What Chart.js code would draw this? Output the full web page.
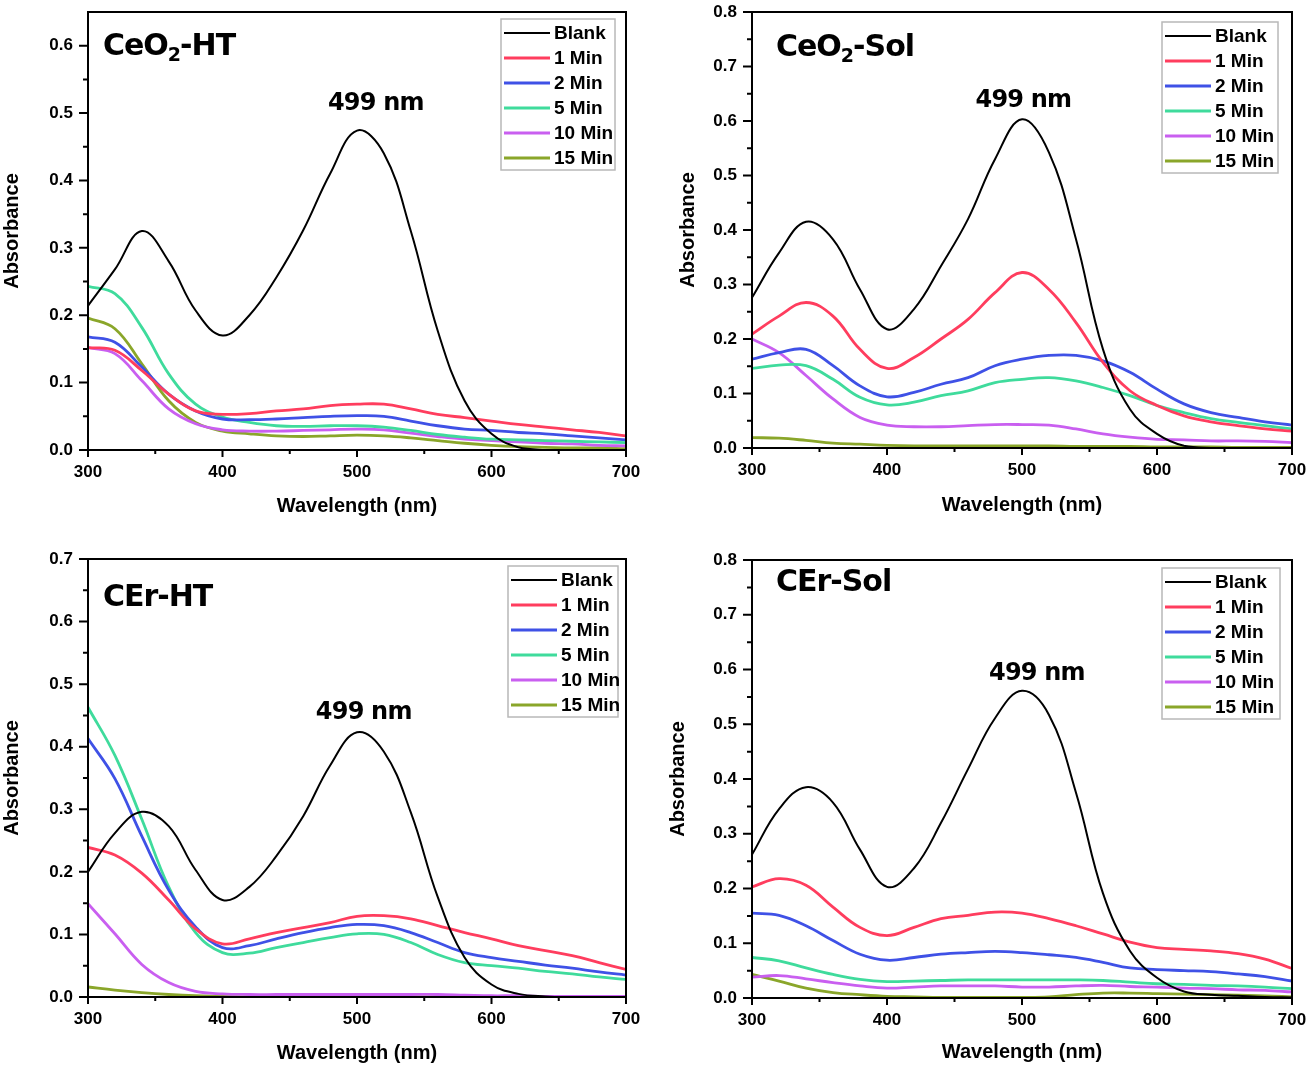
<!DOCTYPE html>
<html>
<head>
<meta charset="utf-8">
<title>Absorbance spectra</title>
<script src="https://cdn.jsdelivr.net/npm/chart.js@4.4.1/dist/chart.umd.min.js"></script>
<style>
  body { margin: 0; background: #fff; }
  canvas { position: absolute; }
</style>
</head>
<body>
<canvas id="p1" width="656" height="534" style="left:0;top:0"></canvas>
<canvas id="p2" width="655" height="534" style="left:656px;top:0"></canvas>
<canvas id="p3" width="656" height="534" style="left:0;top:534px"></canvas>
<canvas id="p4" width="655" height="534" style="left:656px;top:534px"></canvas>
<script>
// wavelengths (nm) shared by all spectra
const wavelengths = [300,320,340,360,380,400,420,440,460,480,500,520,540,560,580,600,620,640,660,680,700];
const seriesNames = ["Blank", "1 Min", "2 Min", "5 Min", "10 Min", "15 Min"];
const seriesColors = ["#000000", "#ff3d5e", "#3f51e6", "#3fdb9c", "#c95ff0", "#8aa62a"];

const xTicks = [300, 400, 500, 600, 700];
const xMinor = [350, 450, 550, 650];

// CeO2-HT
const htBlank = [0.214,0.268,0.325,0.280,0.207,0.170,0.200,0.256,0.326,0.410,0.474,0.440,0.325,0.177,0.073,0.024,0.004,0.000,0.000,0.000,0.000];
const ht1 = [0.152,0.148,0.118,0.083,0.058,0.053,0.054,0.058,0.061,0.066,0.068,0.068,0.061,0.053,0.048,0.043,0.038,0.034,0.030,0.026,0.021];
const ht2 = [0.168,0.160,0.123,0.083,0.058,0.046,0.045,0.046,0.048,0.050,0.051,0.050,0.043,0.036,0.031,0.029,0.026,0.024,0.021,0.018,0.015];
const ht5 = [0.243,0.232,0.182,0.113,0.068,0.049,0.041,0.036,0.035,0.036,0.036,0.034,0.029,0.023,0.019,0.016,0.015,0.014,0.013,0.012,0.011];
const ht10 = [0.152,0.143,0.103,0.061,0.039,0.030,0.028,0.028,0.029,0.030,0.031,0.030,0.025,0.020,0.016,0.014,0.012,0.010,0.009,0.007,0.006];
const ht15 = [0.196,0.180,0.128,0.073,0.041,0.028,0.024,0.021,0.020,0.021,0.022,0.021,0.018,0.014,0.010,0.007,0.005,0.004,0.003,0.003,0.002];

// CeO2-Sol
const solBlank = [0.276,0.358,0.415,0.383,0.291,0.218,0.255,0.334,0.420,0.530,0.603,0.542,0.383,0.181,0.071,0.026,0.004,0.000,0.000,0.000,0.000];
const sol1 = [0.209,0.242,0.267,0.242,0.181,0.146,0.166,0.200,0.236,0.285,0.322,0.291,0.230,0.157,0.105,0.078,0.059,0.048,0.041,0.035,0.031];
const sol2 = [0.163,0.175,0.181,0.151,0.114,0.094,0.102,0.117,0.129,0.151,0.163,0.170,0.170,0.160,0.139,0.108,0.081,0.065,0.056,0.048,0.042];
const sol5 = [0.146,0.152,0.151,0.126,0.093,0.079,0.084,0.096,0.105,0.120,0.126,0.129,0.123,0.111,0.096,0.078,0.065,0.054,0.047,0.041,0.035];
const sol10 = [0.200,0.175,0.133,0.090,0.056,0.042,0.039,0.039,0.041,0.043,0.043,0.042,0.035,0.026,0.020,0.016,0.015,0.013,0.013,0.012,0.010];
const sol15 = [0.019,0.018,0.014,0.009,0.007,0.005,0.004,0.004,0.004,0.004,0.004,0.004,0.003,0.003,0.003,0.002,0.002,0.002,0.001,0.001,0.001];

// CEr-HT
const cerHtBlank = [0.200,0.262,0.296,0.273,0.203,0.155,0.176,0.225,0.289,0.370,0.423,0.392,0.295,0.160,0.063,0.020,0.005,0.001,0.000,0.000,0.000];
const cerHt1 = [0.239,0.227,0.198,0.155,0.109,0.085,0.093,0.103,0.111,0.119,0.129,0.130,0.125,0.114,0.103,0.093,0.082,0.074,0.066,0.055,0.044];
const cerHt2 = [0.413,0.349,0.257,0.171,0.112,0.079,0.082,0.093,0.103,0.111,0.116,0.114,0.103,0.087,0.071,0.063,0.057,0.051,0.046,0.040,0.035];
const cerHt5 = [0.463,0.386,0.284,0.176,0.103,0.071,0.070,0.079,0.087,0.095,0.101,0.100,0.087,0.068,0.055,0.050,0.046,0.041,0.037,0.032,0.028];
const cerHt10 = [0.149,0.101,0.052,0.023,0.009,0.005,0.004,0.004,0.004,0.004,0.004,0.004,0.004,0.004,0.003,0.002,0.002,0.001,0.001,0.001,0.001];
const cerHt15 = [0.016,0.011,0.007,0.004,0.002,0.001,0.000,0.000,0.000,0.000,0.000,0.000,0.000,0.000,0.000,0.000,0.000,0.000,0.000,0.000,0.000];

// CEr-Sol
const cerSolBlank = [0.262,0.345,0.385,0.357,0.271,0.203,0.237,0.320,0.418,0.511,0.561,0.517,0.375,0.191,0.086,0.037,0.012,0.006,0.004,0.002,0.001];
const cerSol1 = [0.203,0.218,0.206,0.166,0.129,0.114,0.129,0.145,0.151,0.157,0.155,0.145,0.132,0.117,0.102,0.092,0.089,0.086,0.081,0.071,0.054];
const cerSol2 = [0.155,0.151,0.132,0.105,0.080,0.069,0.074,0.080,0.083,0.085,0.083,0.079,0.074,0.065,0.055,0.052,0.050,0.048,0.044,0.039,0.031];
const cerSol5 = [0.074,0.068,0.055,0.043,0.034,0.030,0.031,0.032,0.033,0.033,0.033,0.033,0.033,0.032,0.029,0.026,0.025,0.023,0.022,0.020,0.017];
const cerSol10 = [0.038,0.041,0.035,0.028,0.022,0.018,0.020,0.022,0.022,0.022,0.020,0.020,0.022,0.023,0.021,0.020,0.018,0.017,0.015,0.014,0.011];
const cerSol15 = [0.043,0.031,0.018,0.010,0.006,0.003,0.002,0.001,0.001,0.001,0.001,0.002,0.006,0.009,0.009,0.008,0.007,0.006,0.005,0.004,0.002];

const labelFont = '"Liberation Sans", Arial, sans-serif';
const heavyFont = '"DejaVu Sans", Verdana, sans-serif';

// frame with outward major/minor ticks (Origin style)
const framePlugin = {
  id: 'frame',
  afterDraw(chart, args, opts) {
    const {ctx, chartArea: a, scales: {x, y}} = chart;
    ctx.save();
    ctx.strokeStyle = '#000';
    ctx.lineWidth = 2;
    ctx.strokeRect(a.left, a.top, a.right - a.left, a.bottom - a.top);
    ctx.beginPath();
    xTicks.forEach(v => { const p = x.getPixelForValue(v); ctx.moveTo(p, a.bottom); ctx.lineTo(p, a.bottom + 7); });
    xMinor.forEach(v => { const p = x.getPixelForValue(v); ctx.moveTo(p, a.bottom); ctx.lineTo(p, a.bottom + 4); });
    opts.yTicks.forEach(v => { const p = y.getPixelForValue(v); ctx.moveTo(a.left, p); ctx.lineTo(a.left - 9, p); });
    opts.yTicks.forEach(v => {
      const m = v + 0.05;
      if (m < y.max) { const p = y.getPixelForValue(m); ctx.moveTo(a.left, p); ctx.lineTo(a.left - 5, p); }
    });
    ctx.stroke();
    ctx.restore();
  }
};

// boxed legend inside the plot, plus panel title and peak annotation
const decorPlugin = {
  id: 'decor',
  afterDatasetsDraw(chart, args, opts) {
    const {ctx, chartArea: a, scales: {x, y}} = chart;
    ctx.save();
    // legend
    const L = opts.legend;
    const bx = a.right - L.dx, by = a.top + L.dy;
    ctx.fillStyle = '#fff';
    ctx.fillRect(bx, by, L.w, 151);
    ctx.strokeStyle = '#b8b8b8';
    ctx.lineWidth = 1.5;
    ctx.strokeRect(bx, by, L.w, 151);
    ctx.font = 'bold 19px ' + labelFont;
    ctx.textBaseline = 'middle';
    ctx.textAlign = 'left';
    chart.data.datasets.forEach((ds, i) => {
      const ry = by + 14 + i * 25;
      ctx.strokeStyle = ds.borderColor;
      ctx.lineWidth = i === 0 ? 2 : 3;
      ctx.beginPath();
      ctx.moveTo(bx + 3, ry);
      ctx.lineTo(bx + 49, ry);
      ctx.stroke();
      ctx.fillStyle = '#000';
      ctx.fillText(ds.label, bx + 53, ry + 1);
    });
    // title with subscript
    const T = opts.title;
    let tx = a.left + T.dx;
    const ty = a.top + T.dy;
    ctx.fillStyle = '#000';
    ctx.letterSpacing = '-1px';
    T.parts.forEach(part => {
      if (part.sub) {
        ctx.font = 'bold 19px ' + heavyFont;
        ctx.fillText(part.text, tx, ty + 9);
      } else {
        ctx.font = 'bold 30px ' + heavyFont;
        ctx.fillText(part.text, tx, ty);
      }
      tx += ctx.measureText(part.text).width;
    });
    // peak annotation
    const A = opts.note;
    ctx.font = 'bold 24px ' + heavyFont;
    ctx.letterSpacing = '-0.8px';
    ctx.textAlign = 'center';
    ctx.fillText('499 nm', x.getPixelForValue(A.x), y.getPixelForValue(A.y));
    ctx.restore();
  }
};

function makePanel(id, series, yMax, yTicks, box, title, note) {
  const datasets = series.map((vals, i) => ({
    label: seriesNames[i],
    data: wavelengths.map((w, k) => ({x: w, y: vals[k]})),
    borderColor: seriesColors[i],
    borderWidth: i === 0 ? 2 : 2.8,
    pointRadius: 0,
    tension: 0.4,
    fill: false,
    order: i === 0 ? 0 : 1
  }));
  return new Chart(document.getElementById(id), {
    type: 'line',
    data: {datasets},
    plugins: [framePlugin, decorPlugin],
    options: {
      responsive: false,
      animation: false,
      layout: {padding: {left: 0, top: box.top, right: box.right, bottom: 0}},
      plugins: {
        legend: {display: false},
        tooltip: {enabled: false},
        frame: {yTicks},
        decor: {legend: box.legend, title, note}
      },
      scales: {
        x: {
          type: 'linear', min: 300, max: 700,
          afterBuildTicks: s => { s.ticks = xTicks.map(v => ({value: v})); },
          afterFit: s => { s.height = box.xh; s.paddingLeft = 0; s.paddingRight = 0; },
          grid: {display: false, drawTicks: false},
          border: {display: false},
          ticks: {padding: 12, color: '#000', font: {family: labelFont, size: 17, weight: 'bold'}},
          title: {display: true, text: 'Wavelength (nm)', color: '#000',
                  padding: {top: 0, bottom: box.xtPad},
                  font: {family: labelFont, size: 20, weight: 'bold'}}
        },
        y: {
          min: 0, max: yMax,
          afterBuildTicks: s => { s.ticks = yTicks.map(v => ({value: v})); },
          afterFit: s => { s.width = box.yw; s.paddingTop = 0; s.paddingBottom = 0; },
          grid: {display: false, drawTicks: false},
          border: {display: false},
          ticks: {padding: 15, color: '#000', font: {family: labelFont, size: 17, weight: 'bold'},
                  callback: v => v.toFixed(1)},
          title: {display: true, text: 'Absorbance', color: '#000',
                  padding: {top: box.ytPad, bottom: 0},
                  font: {family: labelFont, size: 20, weight: 'bold'}}
        }
      }
    }
  });
}

makePanel('p1', [htBlank, ht1, ht2, ht5, ht10, ht15], 0.65,
  [0, 0.1, 0.2, 0.3, 0.4, 0.5, 0.6],
  {top: 12, right: 30, xh: 84, yw: 88, xtPad: 16, ytPad: 0, legend: {dx: 125, dy: 7, w: 114}},
  {dx: 15, dy: 35, parts: [{text: 'CeO'}, {text: '2', sub: true}, {text: '-HT'}]},
  {x: 514, y: 0.514});

makePanel('p2', [solBlank, sol1, sol2, sol5, sol10, sol15], 0.8,
  [0, 0.1, 0.2, 0.3, 0.4, 0.5, 0.6, 0.7, 0.8],
  {top: 12, right: 19, xh: 86, yw: 96, xtPad: 17, ytPad: 20, legend: {dx: 130, dy: 10, w: 116}},
  {dx: 24, dy: 36, parts: [{text: 'CeO'}, {text: '2', sub: true}, {text: '-Sol'}]},
  {x: 501, y: 0.637});

makePanel('p3', [cerHtBlank, cerHt1, cerHt2, cerHt5, cerHt10, cerHt15], 0.7,
  [0, 0.1, 0.2, 0.3, 0.4, 0.5, 0.6, 0.7],
  {top: 25, right: 30, xh: 71, yw: 88, xtPad: 3, ytPad: 0, legend: {dx: 118, dy: 7, w: 110}},
  {dx: 15, dy: 39, parts: [{text: 'CEr-HT'}]},
  {x: 505, y: 0.455});

makePanel('p4', [cerSolBlank, cerSol1, cerSol2, cerSol5, cerSol10, cerSol15], 0.8,
  [0, 0.1, 0.2, 0.3, 0.4, 0.5, 0.6, 0.7, 0.8],
  {top: 26, right: 19, xh: 70, yw: 96, xtPad: 4, ytPad: 10, legend: {dx: 130, dy: 8, w: 118}},
  {dx: 24, dy: 23, parts: [{text: 'CEr-Sol'}]},
  {x: 511, y: 0.592});
</script>
</body>
</html>
